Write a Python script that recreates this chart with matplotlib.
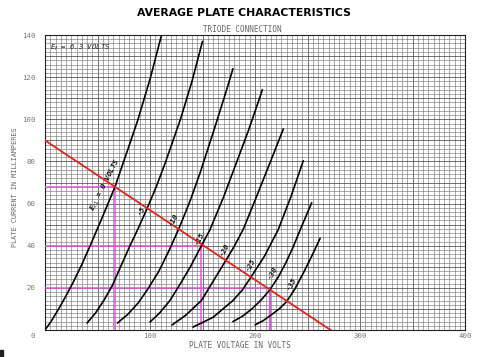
import matplotlib
matplotlib.use("Agg")
import matplotlib.pyplot as plt
import numpy as np
from matplotlib.ticker import FuncFormatter
from matplotlib.patches import Rectangle

# ---- data (plate volts, plate mA) --------------------------------------------------------
GRID_VOLTS = [0, -5, -10, -15, -20, -25, -30, -35]
CURVE_V = [
    [0, 6, 13, 20, 27, 35, 43, 55, 66.7, 77, 88, 100, 111],
    [40, 48, 56, 64, 72, 80, 89, 97, 106, 115, 122, 129, 140, 150],
    [69, 79, 89, 98, 108, 117, 127, 138, 148, 161, 173, 179],
    [100, 109, 119, 129, 139, 149, 157, 170, 182, 194, 205, 207],
    [121, 134, 149, 160, 171, 180, 189, 200, 214, 227],
    [141, 160, 179, 188, 196, 209, 222, 234, 246],
    [179, 188, 197, 206, 214, 222, 229, 236, 243, 254],
    [200, 208, 215, 223, 230, 238, 246, 254, 262],
]
CURVE_I = [
    [0, 4.2, 10, 16.2, 22.8, 31, 40, 54, 68, 83, 99, 119, 140],
    [3.3, 8, 14, 21, 30, 39, 48.5, 57.4, 68, 80, 90, 100, 118, 137],
    [3.3, 7.5, 13, 19.5, 27.5, 36.5, 47.5, 61, 75, 95, 114, 124],
    [3.8, 8, 14, 22, 30.5, 40, 47.5, 63, 79, 95, 111, 114],
    [2.4, 7, 14, 23, 32, 39.5, 48, 61.5, 79, 95.4],
    [1.4, 6, 14, 19, 25, 35, 47.5, 63, 80.3],
    [4, 6.5, 10, 14.3, 19, 25, 31.5, 39, 47.5, 60.4],
    [2.4, 4.5, 7, 10, 13.4, 19.5, 27, 35, 43.5],
]
# label anchor positions along the load line
LABEL_V = [58, 92, 122, 147, 170.5, 196, 217, 235]
LABEL_I = [69, 56.5, 52, 43, 38, 31, 27, 22]

LOAD_V = [0, 272]
LOAD_I = [90, 0]

# operating points dropped to the axes (magenta)
OP_V = [66.7, 149, 214]
OP_I = [68, 40, 20]

fig = plt.figure(figsize=(4.8, 3.57), dpi=100)
ax = fig.add_axes([45 / 480, 27 / 357, 420 / 480, 295 / 357])
ax.set_xlim(0, 400)
ax.set_ylim(0, 140)

# graph-paper grid
ax.set_xticks(np.arange(0, 401, 50))
ax.set_yticks(np.arange(0, 141, 10))
ax.set_xticks(np.arange(0, 401, 5), minor=True)
ax.set_yticks(np.arange(0, 141, 2), minor=True)
ax.grid(which="minor", color="#7a7a7a", lw=0.45)
ax.grid(which="major", color="#4a4a4a", lw=0.55)
ax.set_axisbelow(True)
ax.tick_params(which="both", length=0)
ax.tick_params(axis="x", pad=2.5)
ax.tick_params(axis="y", pad=6.5)
ax.xaxis.set_major_formatter(FuncFormatter(lambda v, p: f"{v:.0f}" if v % 100 == 0 and v > 0 else ""))
ax.yaxis.set_major_formatter(FuncFormatter(lambda v, p: f"{v:.0f}" if v % 20 == 0 and v > 0 else ""))
for lab in ax.get_xticklabels() + ax.get_yticklabels():
    lab.set_fontfamily("DejaVu Sans Mono")
    lab.set_fontsize(5.3)
    lab.set_color("#777777")
for s in ax.spines.values():
    s.set_color("#222222")
    s.set_linewidth(0.8)

# magenta construction lines
for v, i in zip(OP_V, OP_I):
    ax.plot([0, v], [i, i], color="#e055e0", lw=1.1, zorder=3)
    ax.plot([v, v], [0, i], color="#e055e0", lw=1.6 if v > 200 else 1.1, zorder=3)

# plate curves
for vs, is_ in zip(CURVE_V, CURVE_I):
    ax.plot(vs, is_, color="black", lw=1.2, zorder=4, solid_capstyle="round",
            solid_joinstyle="round")

# load line
ax.plot(LOAD_V, LOAD_I, color="#e3231c", lw=1.3, zorder=5)

# curve labels
for g, lv, li in zip(GRID_VOLTS, LABEL_V, LABEL_I):
    txt = r"E$_{c1}$ = 0 VOLTS" if g == 0 else f"{g}"
    ax.text(lv, li, txt, rotation=63, ha="center", va="center", fontsize=5.4,
            family="DejaVu Sans Mono", fontstyle="italic", fontweight="bold",
            color="#111111", zorder=6)

ax.text(5, 134, r"E$_f$ = 6.3 VOLTS", ha="left", va="center", fontsize=5.2,
        family="DejaVu Sans Mono", fontstyle="italic", color="#222222", zorder=6)

fig.text(244 / 480, 1 - 13 / 357, "AVERAGE PLATE CHARACTERISTICS", ha="center", va="center",
         fontsize=7.8, fontweight="bold", color="black")
fig.text(242 / 480, 1 - 29 / 357, "TRIODE CONNECTION", ha="center", va="center",
         fontsize=5.5, family="DejaVu Sans Mono", color="#666666")
fig.text(240 / 480, 1 - 346 / 357, "PLATE VOLTAGE IN VOLTS", ha="center", va="center",
         fontsize=5.5, family="DejaVu Sans Mono", color="#666666")
fig.text(15 / 480, 1 - 187 / 357, "PLATE CURRENT IN MILLIAMPERES", ha="center", va="center",
         rotation=90, fontsize=4.9, family="DejaVu Sans Mono", color="#666666")
fig.text(33 / 480, 1 - 336 / 357, "0", ha="center", va="center",
         fontsize=5.3, family="DejaVu Sans Mono", color="#777777")

# small scan mark at the lower-left corner
fig.patches.append(Rectangle((0, 0), 3 / 480, 7 / 357, transform=fig.transFigure,
                             color="#222222", zorder=10))

fig.savefig("out.png", dpi=100)
